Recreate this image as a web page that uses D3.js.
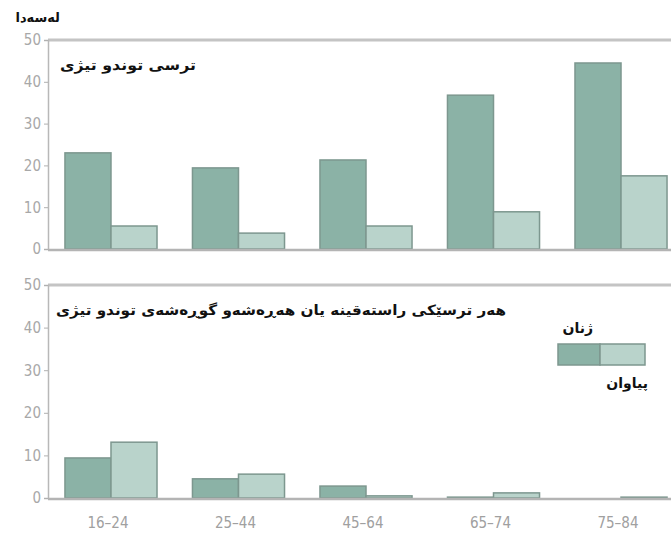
<!DOCTYPE html>
<html><head><meta charset="utf-8">
<script src="https://cdn.jsdelivr.net/npm/d3@7"></script>
<style>
body{margin:0;background:#fff;}
svg{display:block;}
</style></head>
<body>
<svg id="c" width="671" height="539"></svg>
<script>
const categories = ["16–24","25–44","45–64","65–74","75–84"];
const womenFear = [23, 19.4, 21.3, 36.8, 44.5];
const menFear = [5.5, 3.8, 5.5, 8.9, 17.5];
const womenThreat = [9.4, 4.5, 2.8, 0.2, 0];
const menThreat = [13.1, 5.6, 0.5, 1.2, 0.2];
const yTicks = [0,10,20,30,40,50];
const yLabel = "لەسەدا";
const titleTop = "ترسی توندو تیژی";
const titleBottom = "هەر ترسێکی راستەقینە یان هەڕەشەو گوڕەشەی توندو تیژی";
const legendWomen = "ژنان";
const legendMen = "پیاوان";

const darkFill = "#8bb2a6", lightFill = "#b9d3cb", barStroke = "#7d978f";
const svg = d3.select("#c");
const arabicFont = "'DejaVu Sans', sans-serif";

const x = d3.scaleBand().domain(categories).range([48, 684]).paddingInner(0.278).paddingOuter(0.133);
const sub = d3.scaleBand().domain(["w","m"]).range([0, x.bandwidth()]);

function panel(y0, y1, women, men, title, titleX, titleY, titleLen) {
  const y = d3.scaleLinear().domain([0,50]).range([y0, y1]);
  const g = svg.append("g");
  g.append("line").attr("x1",48).attr("x2",671).attr("y1",y(50)).attr("y2",y(50))
    .attr("stroke","#c4c4c4").attr("stroke-width",3);
  const ax = g.append("g").attr("transform","translate(48,0)")
    .call(d3.axisLeft(y).tickValues(yTicks).tickSize(4).tickPadding(3));
  ax.select(".domain").attr("stroke","#b8b8b8").attr("stroke-width",1.5);
  ax.selectAll(".tick line").attr("stroke","#b0b0b0");
  ax.selectAll("text").attr("fill","#a8a8a8").attr("font-size",15)
    .attr("font-family","'Liberation Sans Narrow','DejaVu Sans Condensed',sans-serif");
  const data = categories.map((c,i)=>({c, w:women[i], m:men[i]}));
  const grp = g.selectAll(".grp").data(data).join("g").attr("transform", d=>`translate(${x(d.c)},0)`);
  grp.append("rect").attr("x", sub("w")).attr("width", sub.bandwidth())
    .attr("y", d=>y(d.w)).attr("height", d=>y(0)-y(d.w))
    .attr("fill", darkFill).attr("stroke", barStroke).attr("stroke-width",1.5);
  grp.append("rect").attr("x", sub("m")).attr("width", sub.bandwidth())
    .attr("y", d=>y(d.m)).attr("height", d=>y(0)-y(d.m))
    .attr("fill", lightFill).attr("stroke", barStroke).attr("stroke-width",1.5);
  g.append("line").attr("x1",48).attr("x2",671).attr("y1",y(0)+1).attr("y2",y(0)+1)
    .attr("stroke","#b4b4b4").attr("stroke-width",2.5);
  g.append("text").attr("x",titleX).attr("y",titleY).attr("text-anchor","end")
    .attr("font-family",arabicFont).attr("font-weight","bold").attr("font-size",14)
    .attr("textLength", titleLen).attr("lengthAdjust","spacingAndGlyphs")
    .attr("fill","#111").text(title);
  return y;
}

panel(249, 40, womenFear, menFear, titleTop, 196, 70, 136);
panel(498, 285, womenThreat, menThreat, titleBottom, 506, 315, 450);

svg.append("text").attr("x",60).attr("y",22).attr("text-anchor","end")
  .attr("font-family",arabicFont).attr("font-weight","bold").attr("font-size",13)
  .attr("fill","#111").text(yLabel);

svg.append("g").selectAll("text").data(categories).join("text")
  .attr("x", d=>x(d)+x.bandwidth()/2 - 3).attr("y",528).attr("text-anchor","middle")
  .attr("font-family","'Liberation Sans Narrow','DejaVu Sans Condensed',sans-serif")
  .attr("font-size",15).attr("fill","#a0a0a0").text(d=>d);

const lg = svg.append("g");
lg.append("rect").attr("x",558).attr("y",344).attr("width",42).attr("height",21)
  .attr("fill",darkFill).attr("stroke",barStroke).attr("stroke-width",1.5);
lg.append("rect").attr("x",600).attr("y",344).attr("width",45).attr("height",21)
  .attr("fill",lightFill).attr("stroke",barStroke).attr("stroke-width",1.5);
lg.append("text").attr("x",593).attr("y",333).attr("text-anchor","end")
  .attr("font-family",arabicFont).attr("font-weight","bold").attr("font-size",14)
  .attr("fill","#111").text(legendWomen);
lg.append("text").attr("x",648).attr("y",388).attr("text-anchor","end")
  .attr("font-family",arabicFont).attr("font-weight","bold").attr("font-size",14)
  .attr("fill","#111").text(legendMen);
</script>
</body></html>
